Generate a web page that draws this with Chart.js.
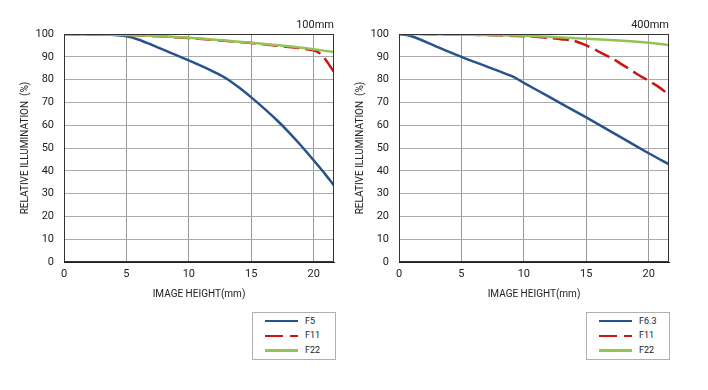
<!DOCTYPE html>
<html>
<head>
<meta charset="utf-8">
<script src="https://cdn.jsdelivr.net/npm/chart.js@4.4.1/dist/chart.umd.min.js"></script>
<style>
  body { margin: 0; background: #fff; font-family: Roboto, sans-serif; }
  #wrap { position: relative; width: 708px; height: 390px; overflow: hidden; }
  #wrap canvas { position: absolute; top: 0; }
  .focal { position: absolute; top: 18px; font-size: 11px; line-height: 13px; color: #222; text-align: right; }
  .legend { position: absolute; top: 312px; width: 84px; height: 48px; border: 1px solid #b0b0b0; box-sizing: border-box; }
  .legend .sample { position: absolute; left: 12px; width: 33px; height: 2.5px; }
  .legend .label { position: absolute; left: 52px; font-size: 9px; line-height: 11px; color: #222; }
</style>
</head>
<body>
<div id="wrap">
  <canvas id="chart100" width="330" height="310" style="left:14px"></canvas>
  <canvas id="chart400" width="330" height="310" style="left:349px"></canvas>
  <div class="focal" id="focal100" style="right:374px"></div>
  <div class="focal" id="focal400" style="right:39px"></div>
  <div class="legend" id="legend100" style="left:252px"></div>
  <div class="legend" id="legend400" style="left:586px"></div>
</div>
<script>
  // axis ranges / text
  const imageHeightMax = 21.63;
  const xStep = 5;
  const yStep = 10;
  const focalLengths = ['100mm', '400mm'];
  const xTitle = 'IMAGE HEIGHT(mm)';
  const yTitle = 'RELATIVE ILLUMINATION  (%)';

  // 100mm
  const labels100 = ['F5', 'F11', 'F22'];
  const x100F5 = [0, 2, 4, 5, 6, 7, 8, 9, 10, 11, 12, 13, 14, 15, 16, 17, 18, 19, 20, 21, 21.63];
  const y100F5 = [100, 99.9, 99.6, 99, 97.5, 95.3, 93, 90.7, 88.4, 86, 83.4, 80.5, 76.6, 72.2, 67.5, 62.5, 57, 51, 44.6, 38, 33.6];
  const x100F11 = [0, 5, 10, 15, 18, 19, 20, 20.5, 21, 21.63];
  const y100F11 = [100, 99.6, 98.2, 96.0, 94.3, 93.7, 92.8, 91.5, 88.4, 83.3];
  const x100F22 = [0, 5, 10, 15, 18, 20, 21.63];
  const y100F22 = [100, 99.6, 98.4, 96.2, 94.6, 93.3, 92.1];

  // 400mm
  const labels400 = ['F6.3', 'F11', 'F22'];
  const x400F63 = [0, 1, 3, 5, 7, 9, 10, 12, 15, 18, 20, 21.63];
  const y400F63 = [100, 99, 94.5, 90, 85.8, 81.6, 78.6, 72.5, 63.4, 54, 47.7, 42.8];
  const x400F11 = [0, 5, 10, 12, 13, 14, 15, 16, 17.5, 19, 20.8, 21.63];
  const y400F11 = [100, 99.8, 99.0, 98.3, 97.7, 97.0, 95.0, 92.3, 87.9, 82.7, 76.8, 73.3];
  const x400F22 = [0, 5, 10, 15, 20, 21.63];
  const y400F22 = [100, 99.7, 99.2, 97.9, 96.2, 95.1];

  const colors = ['#27528e', '#cc1414', '#93c256'];
  const dashes = [[], [16, 6], []];

  function points(xs, ys) {
    return xs.map((x, i) => ({ x: x, y: ys[i] }));
  }

  // box round the plot area
  const frame = {
    id: 'frame',
    afterDatasetsDraw(chart) {
      const a = chart.chartArea;
      const ctx = chart.ctx;
      ctx.save();
      ctx.strokeStyle = '#333';
      ctx.lineWidth = 1;
      ctx.strokeRect(a.left + 0.5, a.top + 0.5, a.right - a.left - 1, a.bottom - a.top - 1);
      ctx.restore();
    }
  };

  function makeChart(id, labels, series) {
    const datasets = series.map((s, i) => ({
      label: labels[i],
      data: points(s[0], s[1]),
      borderColor: colors[i],
      borderWidth: 2.5,
      borderDash: dashes[i],
      pointRadius: 0,
      tension: 0.3,
      fill: false
    }));
    // draw F5 on top
    datasets.reverse();
    return new Chart(document.getElementById(id), {
      type: 'line',
      data: { datasets: datasets },
      options: {
        responsive: false,
        animation: false,
        layout: { padding: { top: 34, right: 10, left: 0, bottom: 0 } },
        plugins: { legend: { display: false }, tooltip: { enabled: false } },
        scales: {
          x: {
            type: 'linear',
            min: 0,
            max: imageHeightMax,
            afterFit(scale) { scale.height = 48; },
            ticks: { stepSize: xStep, includeBounds: false, padding: 6, color: '#222', font: { family: 'Roboto', size: 11 } },
            grid: { color: '#999', drawTicks: false },
            border: { color: '#222' },
            title: { display: true, text: xTitle, color: '#222', padding: { top: 0, bottom: 10 }, font: { family: 'Roboto', size: 10 } }
          },
          y: {
            min: 0,
            max: 100,
            afterFit(scale) { scale.width = 50; },
            ticks: { stepSize: yStep, padding: 10, color: '#222', font: { family: 'Roboto', size: 11 } },
            grid: { color: '#aaa', drawTicks: false },
            border: { color: '#111' },
            title: { display: true, text: yTitle, color: '#222', padding: { top: 5, bottom: 0 }, font: { family: 'Roboto', size: 10 } }
          }
        }
      },
      plugins: [frame]
    });
  }

  function makeLegend(id, labels) {
    const box = document.getElementById(id);
    labels.forEach((label, i) => {
      const top = 8 + i * 14.8;
      const sample = document.createElement('div');
      sample.className = 'sample';
      sample.style.top = (top - 1.25) + 'px';
      if (dashes[i].length) {
        sample.style.background = 'linear-gradient(to right, ' + colors[i] + ' 0 18px, transparent 18px 25px, ' + colors[i] + ' 25px 33px)';
      } else {
        sample.style.background = colors[i];
      }
      const text = document.createElement('div');
      text.className = 'label';
      text.style.top = (top - 5.5) + 'px';
      text.textContent = label;
      box.appendChild(sample);
      box.appendChild(text);
    });
  }

  makeChart('chart100', labels100, [[x100F5, y100F5], [x100F11, y100F11], [x100F22, y100F22]]);
  makeChart('chart400', labels400, [[x400F63, y400F63], [x400F11, y400F11], [x400F22, y400F22]]);
  document.getElementById('focal100').textContent = focalLengths[0];
  document.getElementById('focal400').textContent = focalLengths[1];
  makeLegend('legend100', labels100);
  makeLegend('legend400', labels400);
</script>
</body>
</html>
